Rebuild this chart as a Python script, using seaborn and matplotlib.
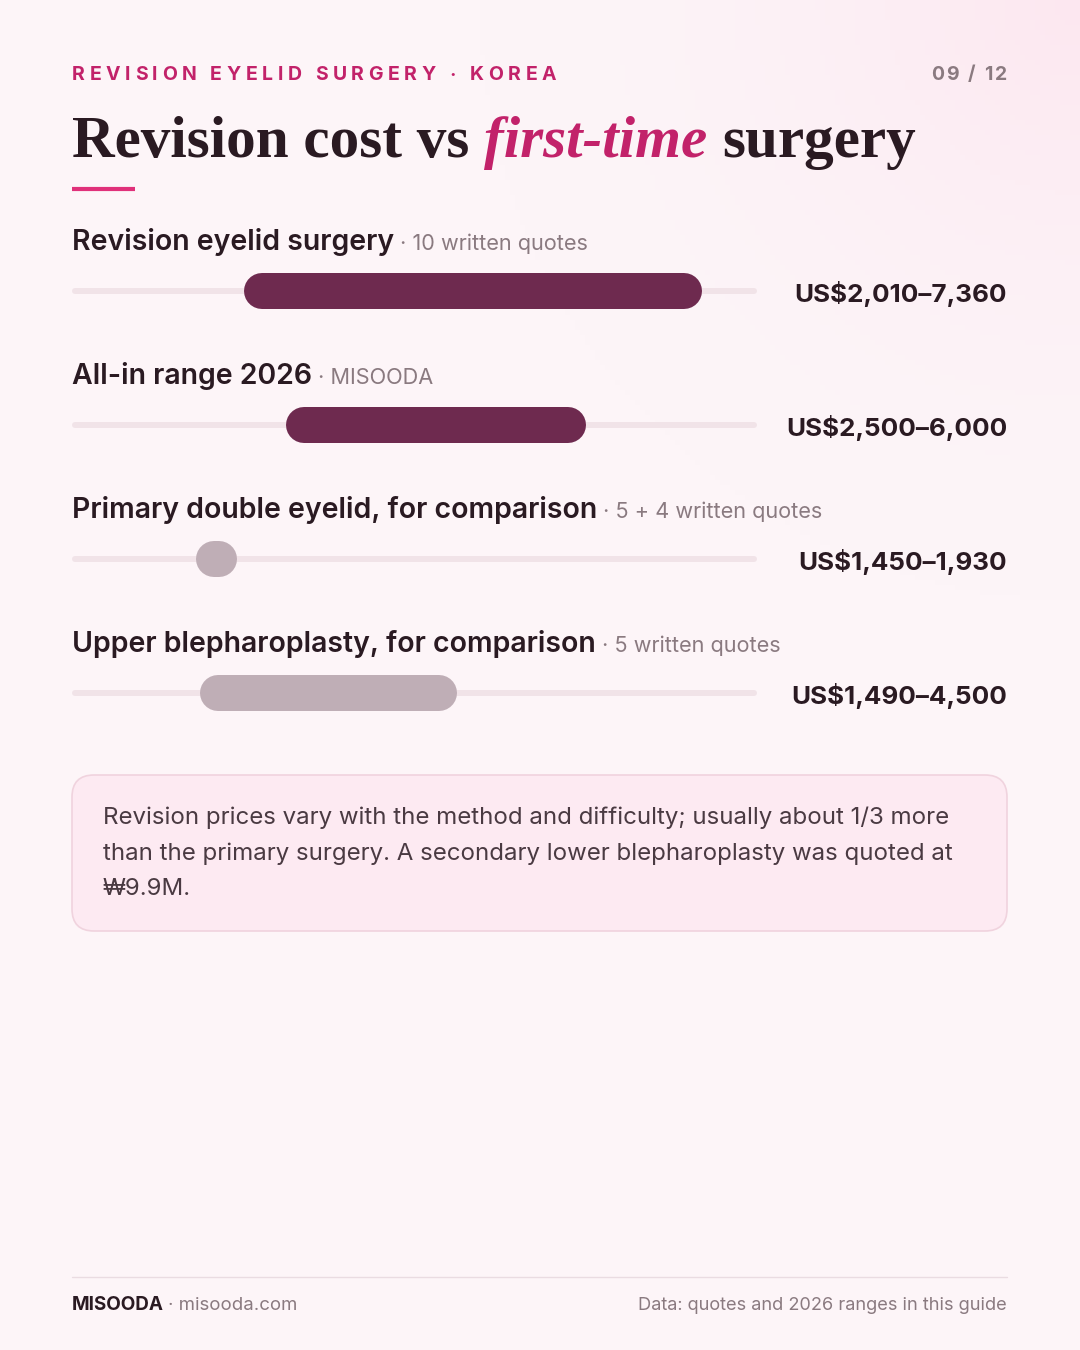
import numpy as np
import pandas as pd
import seaborn as sns
import matplotlib.pyplot as plt
from matplotlib.patches import FancyBboxPatch

# data
rows = ["Revision eyelid surgery", "All-in range 2026",
        "Primary double eyelid, for comparison", "Upper blepharoplasty, for comparison"]
notes = ["10 written quotes", "MISOODA", "5 + 4 written quotes", "5 written quotes"]
lows = [2010, 2500, 1450, 1490]
highs = [7360, 6000, 1930, 4500]
value_labels = ["US$2,010\u20137,360", "US$2,500\u20136,000", "US$1,450\u20131,930", "US$1,490\u20134,500"]
kinds = ["revision", "revision", "primary", "primary"]
x_max = 8000

DARK = "#2A1A22"
GREY = "#8A7A80"
PINK = "#C2226A"
PLUM = "#6E2A4F"
MUTED = "#BFAEB6"
TRACK = "#F1E3E8"

sns.set_theme(style="white")
plt.rcParams["font.family"] = ["Inter", "DejaVu Sans"]

W, H = 1080, 1350
fig = plt.figure(figsize=(10.8, 13.5), dpi=100)
bg = fig.add_axes([0, 0, 1, 1])
bg.set_xlim(0, W)
bg.set_ylim(H, 0)
bg.axis("off")

# background with soft pink glow in top-right corner
gx, gy = np.meshgrid(np.linspace(0, W, 216), np.linspace(0, H, 270))
d = np.sqrt((gx - W) ** 2 + gy ** 2) / 600
t = np.clip(1 - d, 0, 1) ** 1.8
base = np.array([253, 245, 248]) / 255
glow = np.array([252, 231, 240]) / 255
img = base[None, None, :] * (1 - t[..., None]) + glow[None, None, :] * t[..., None]
bg.imshow(img, extent=[0, W, H, 0], aspect="auto", zorder=0)

fig.canvas.draw()
renderer = fig.canvas.get_renderer()


def text_w(s, **kw):
    tt = bg.text(0, 0, s, **kw)
    w = tt.get_window_extent(renderer).width
    tt.remove()
    return w


def tracked(x, y, s, spacing, ha="left", **kw):
    ref = text_w("x", **kw)
    offs = [text_w(s[:i] + "x", **kw) - ref if i else 0 for i in range(len(s))]
    total = text_w(s + "x", **kw) - ref + spacing * (len(s) - 1)
    if ha == "right":
        x = x - total
    for i, ch in enumerate(s):
        bg.text(x + offs[i] + spacing * i, y, ch, va="center", ha="left", **kw)


# header
tracked(72, 75.5, "REVISION EYELID SURGERY \u00b7 KOREA", 4.6, fontsize=14, fontweight="bold", color=PINK)
tracked(1007, 75.5, "09 / 12", 2.2, ha="right", fontsize=14, fontweight="bold", color=GREY)

# title
tkw = dict(fontsize=42.6, fontweight="bold", family="Liberation Serif")
space = text_w("a a", **tkw) - text_w("aa", **tkw)
x = 72
bg.text(x, 157, "Revision cost vs", color=DARK, va="baseline", **tkw)
x += text_w("Revision cost vs", **tkw) + space
bg.text(x, 157, "first-time", color=PINK, style="italic", va="baseline", **tkw)
x += text_w("first-time", style="italic", **tkw) + space
bg.text(x, 157, "surgery", color=DARK, va="baseline", **tkw)
bg.plot([72, 135], [189, 189], color="#E0307A", lw=3, solid_capstyle="butt")

# rows
row_gap = 134
label_y0 = 242
bar_y0 = 291
lkw = dict(fontsize=20.5, fontweight="semibold", color=DARK)
for i, (name, note, vl) in enumerate(zip(rows, notes, value_labels)):
    ly = label_y0 + i * row_gap
    bg.text(72, ly, name, va="center", **lkw)
    nx = 72 + text_w(name, **lkw) + 6
    bg.text(nx, ly + 2, "\u00b7 " + note, va="center", fontsize=15.6, color=GREY)
    bg.text(1007, bar_y0 + i * row_gap + 3, vl, va="center", ha="right",
            fontsize=18.7, fontweight="bold", color=DARK)

# range bars
track_l, track_r = 72, 757
bar_ax = fig.add_axes([track_l / W, 0, (track_r - track_l) / W, 1])
bar_ax.patch.set_alpha(0)

bar_px = 36
track_px = 6
per_px = x_max / (track_r - track_l)
lw_bar = bar_px * 72 / 100
lw_track = track_px * 72 / 100
bar_y = [bar_y0 + i * row_gap for i in range(len(rows))]

bar_ax.hlines(bar_y, (track_px / 2) * per_px, x_max - (track_px / 2) * per_px,
              color=TRACK, lw=lw_track, capstyle="round", zorder=1)

inset = bar_px / 2 * per_px
df = pd.DataFrame({
    "row": np.repeat(rows, 2),
    "kind": np.repeat(kinds, 2),
    "y": np.repeat(bar_y, 2),
    "value": np.ravel(np.column_stack([np.array(lows) + inset, np.array(highs) - inset])),
})
sns.lineplot(data=df, x="value", y="y", units="row", hue="kind", estimator=None, sort=False,
             palette={"revision": PLUM, "primary": MUTED}, linewidth=lw_bar,
             solid_capstyle="round", legend=False, ax=bar_ax, zorder=2)
bar_ax.set_xlim(0, x_max)
bar_ax.set_ylim(H, 0)
bar_ax.axis("off")

# note box
box = FancyBboxPatch((72, 775), 935, 156, boxstyle="round,pad=0,rounding_size=22",
                     facecolor="#FDEAF2", edgecolor="#F0D3DE", lw=1.2, zorder=1)
bg.add_patch(box)
note_lines = ["Revision prices vary with the method and difficulty; usually about 1/3 more",
              "than the primary surgery. A secondary lower blepharoplasty was quoted at",
              "\u20a99.9M."]
for j, line in enumerate(note_lines):
    bg.text(103, 818 + j * 35.5, line, va="center", fontsize=17.3, color="#4A3A42", zorder=2)

# footer
bg.plot([72, 1007], [1277, 1277], color="#EADCE2", lw=1)
fkw = dict(fontsize=13.6, fontweight="bold", color=DARK)
bg.text(72, 1305, "MISOODA", va="center", **fkw)
bg.text(72 + text_w("MISOODA", **fkw) + 4, 1305, "\u00b7 misooda.com", va="center", fontsize=13.4, color=GREY)
bg.text(1007, 1305, "Data: quotes and 2026 ranges in this guide", va="center", ha="right",
        fontsize=13.1, color=GREY)

fig.savefig("out.png", dpi=100)
